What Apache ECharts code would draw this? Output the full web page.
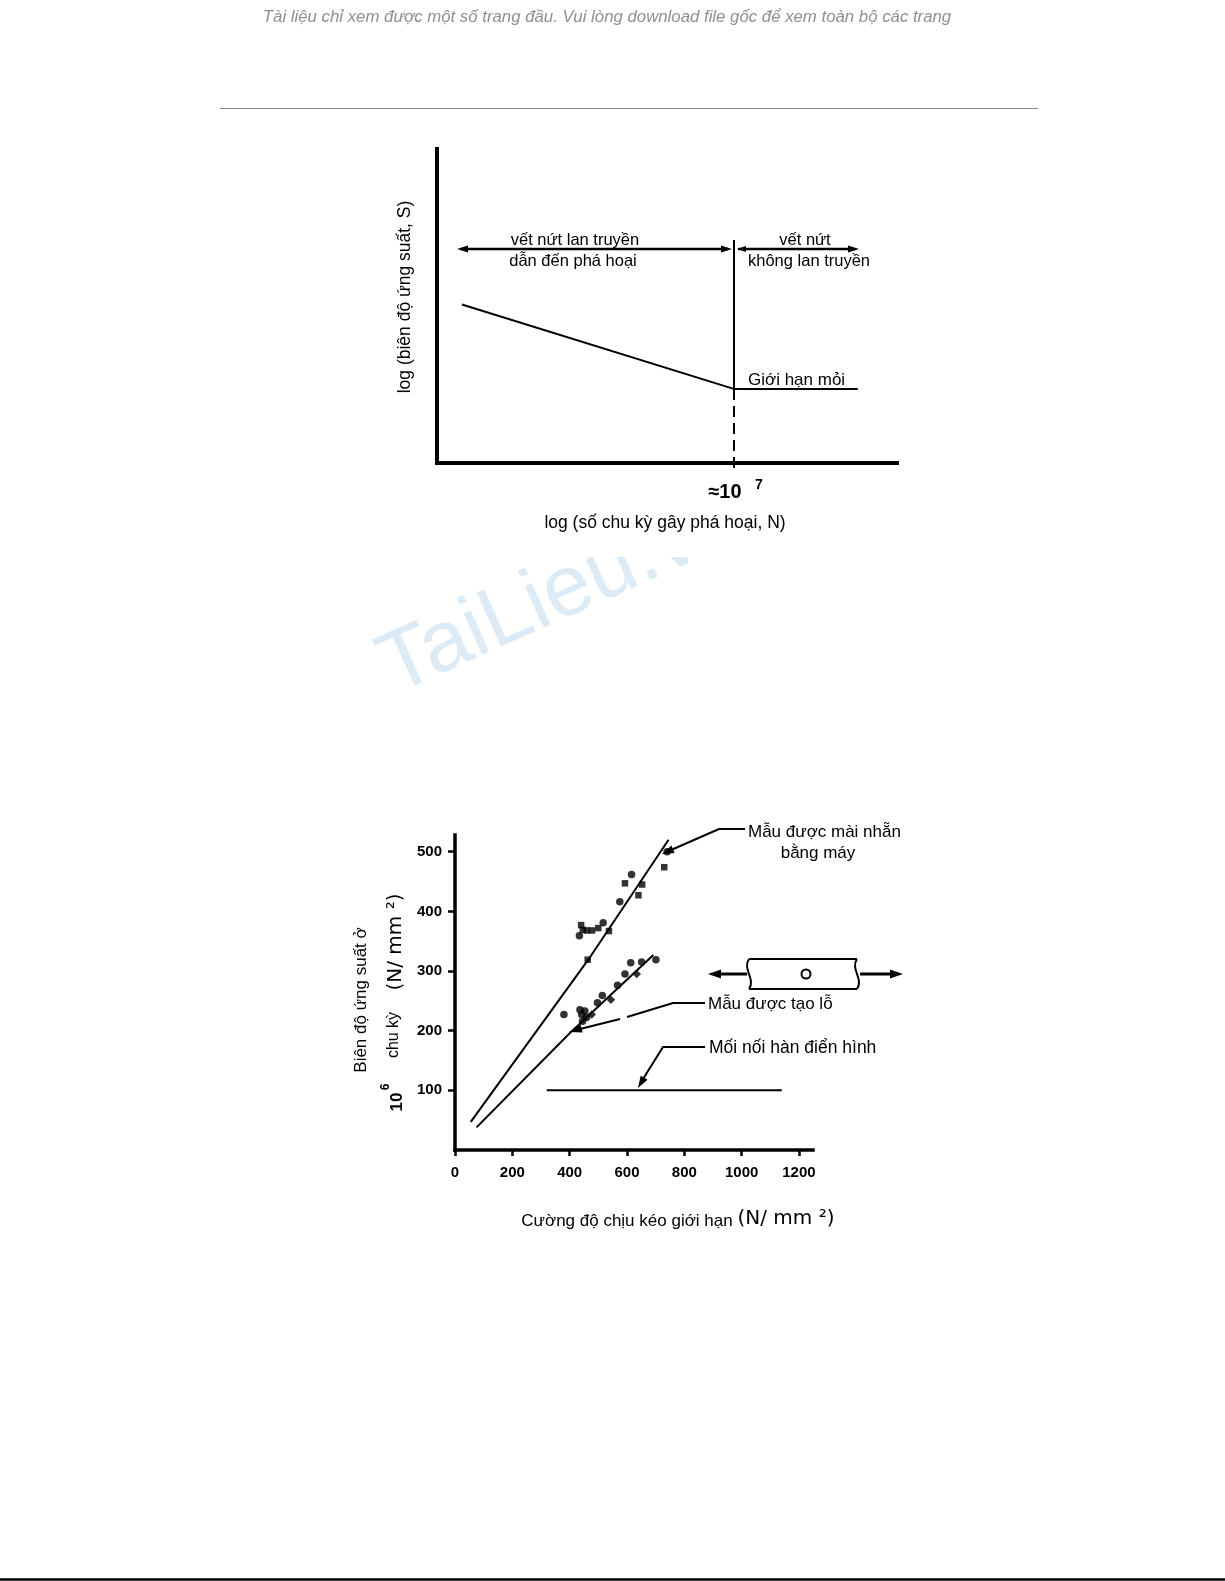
<!DOCTYPE html>
<html><head><meta charset="utf-8">
<script src="https://cdn.jsdelivr.net/npm/echarts@6/dist/echarts.min.js"></script>
<style>html,body{margin:0;padding:0;background:#fff}#c{width:1225px;height:1581px}</style>
</head><body><div id="c"></div>
<script>
// ---------- DATA ----------
// Top chart: schematic S-N curve (log N, log S in arbitrary units)
const snCurve = [[2.42, 5.05], [7, 2.36], [9.09, 2.36]];
// Bottom chart
const xTicks = [0, 200, 400, 600, 800, 1000, 1200];
const yTicks = [100, 200, 300, 400, 500];
const polishedLine = [[55, 47], [465, 319], [745, 520]];
const drilledLine = [[75, 38], [401, 196], [692, 327]];
const weldLine = [[320, 100], [1140, 100]];
const polishedSquares = [[440, 377], [446, 369], [460, 368], [478, 368], [500, 372], [537, 367], [593, 447], [653, 445], [640, 427], [730, 474], [463, 319]];
const polishedCircles = [[434, 359], [517, 381], [575, 416], [616, 462], [740, 500]];
const drilledCircles = [[380, 227], [436, 235], [453, 233], [442, 227], [459, 222], [445, 216], [497, 247], [514, 259], [567, 276], [593, 295], [613, 314], [651, 315], [701, 319]];
const drilledDiamonds = [[477, 227], [544, 252], [634, 295]];

// ---------- HELPERS ----------
const FF = '"Liberation Sans", Arial, Helvetica, sans-serif';
function T(x, y, text, size, o) {
  o = o || {};
  const al = o.align || 'center', va = o.valign || 'middle';
  return { type: 'text', x: x, y: y, rotation: o.rot || 0, z: o.z || 10, silent: true,
    style: { text: text, fill: o.color || '#000', fontSize: size, fontFamily: o.family || FF,
      fontWeight: o.weight || 'normal', fontStyle: o.fstyle || 'normal',
      align: al, verticalAlign: va, textAlign: al, textVerticalAlign: va } };
}
function L(x1, y1, x2, y2, w, o) {
  o = o || {};
  return { type: 'line', z: 10, silent: true, shape: { x1, y1, x2, y2 },
    style: { stroke: o.color || '#000', lineWidth: w || 2, lineDash: o.dash || null } };
}
function PL(points, w) {
  return { type: 'polyline', z: 10, silent: true, shape: { points }, style: { stroke: '#000', lineWidth: w || 2, fill: null } };
}
function head(x1, y1, x2, y2, len, hw) {
  const dx = x2 - x1, dy = y2 - y1, d = Math.hypot(dx, dy), ux = dx / d, uy = dy / d;
  const bx = x2 - ux * len, by = y2 - uy * len;
  return { type: 'polygon', z: 11, silent: true,
    shape: { points: [[x2, y2], [bx - uy * hw, by + ux * hw], [bx + uy * hw, by - ux * hw]] },
    style: { fill: '#000' } };
}

const chart = echarts.init(document.getElementById('c'), null, { renderer: 'canvas' });

const graphics = [];
// header
graphics.push(T(607, 17, 'Tài liệu chỉ xem được một số trang đầu. Vui lòng download file gốc để xem toàn bộ các trang', 16.8, { color: '#8f8f8f', fstyle: 'italic', z: 3 }));
graphics.push({ type: 'line', z: 3, silent: true, shape: { x1: 220, y1: 108.5, x2: 1038, y2: 108.5 }, style: { stroke: '#8a8a8a', lineWidth: 1 } });
// watermark
graphics.push({ type: 'text', x: 402, y: 712, rotation: 0.42, z: 0, silent: true,
  style: { text: 'TaiLieu.vn', fill: 'rgba(150,195,228,0.33)', fontSize: 86, fontFamily: FF,
    align: 'left', verticalAlign: 'bottom', textAlign: 'left', textVerticalAlign: 'bottom' } });
// image boxes (occlude watermark)
graphics.push({ type: 'rect', z: 1, silent: true, shape: { x: 368, y: 133, width: 552, height: 424 }, style: { fill: '#ffffff' } });
graphics.push({ type: 'rect', z: 1, silent: true, shape: { x: 330, y: 787, width: 630, height: 445 }, style: { fill: '#ffffff' } });

// ---- top chart annotations ----
graphics.push(L(734, 240, 734, 389, 2));
graphics.push(L(734, 389, 734, 474, 2, { dash: [11, 6] }));
graphics.push(L(461, 249, 728, 249, 2.5));
graphics.push(head(470, 249, 457, 249, 11, 3.5));
graphics.push(head(718, 249, 732, 249, 11, 3.5));
graphics.push(L(738, 249, 855, 249, 2.5));
graphics.push(head(748, 249, 737, 249, 9, 3));
graphics.push(head(845, 249, 859, 249, 11, 3.5));
graphics.push(T(575, 240, 'vết nứt lan truyền', 16.5));
graphics.push(T(573, 261, 'dẫn đến phá hoại', 16.5));
graphics.push(T(805, 240, 'vết nứt', 16.5));
graphics.push(T(809, 261, 'không lan truyền', 16.5));
graphics.push(T(748, 380, 'Giới hạn mỏi', 17, { align: 'left' }));
graphics.push(T(725, 492, '≈10', 20, { weight: 'bold' }));
graphics.push(T(759, 485, '7', 14, { weight: 'bold' }));
graphics.push(T(405, 297, 'log (biên độ ứng suất, S)', 17.5, { rot: Math.PI / 2 }));
graphics.push(T(665, 523, 'log (số chu kỳ gây phá hoại, N)', 17.5));

// ---- bottom chart annotations ----
graphics.push(PL([[745, 829], [719, 829], [671, 850]], 2));
graphics.push(head(683, 845, 662, 854, 12, 4));
graphics.push(T(748, 832, 'Mẫu được mài nhẵn', 17, { align: 'left' }));
graphics.push(T(818, 853, 'bằng máy', 17));
graphics.push(PL([[705, 1003], [673, 1003], [627, 1017]], 2));
graphics.push(PL([[620, 1019], [580, 1029]], 2));
graphics.push(head(588, 1027, 569, 1032, 13, 4));
graphics.push(T(708, 1004, 'Mẫu được tạo lỗ', 17, { align: 'left' }));
graphics.push(PL([[705, 1047], [663, 1047], [643, 1079]], 2));
graphics.push(head(648, 1071, 638, 1088, 12, 4));
graphics.push(T(709, 1048, 'Mối nối hàn điển hình', 17.5, { align: 'left' }));
// specimen sketch
graphics.push(L(749, 959, 857, 959, 2));
graphics.push(L(749, 989, 857, 989, 2));
graphics.push({ type: 'bezierCurve', z: 10, silent: true, shape: { x1: 749, y1: 959, x2: 749, y2: 989, cpx1: 742, cpy1: 969, cpx2: 756, cpy2: 979 }, style: { stroke: '#000', lineWidth: 2, fill: null } });
graphics.push({ type: 'bezierCurve', z: 10, silent: true, shape: { x1: 857, y1: 959, x2: 857, y2: 989, cpx1: 850, cpy1: 969, cpx2: 864, cpy2: 979 }, style: { stroke: '#000', lineWidth: 2, fill: null } });
graphics.push({ type: 'circle', z: 10, silent: true, shape: { cx: 806, cy: 974, r: 4.5 }, style: { stroke: '#000', lineWidth: 2, fill: '#fff' } });
graphics.push(L(747, 974, 716, 974, 3));
graphics.push(head(722, 974, 708, 974, 13, 4.5));
graphics.push(L(860, 974, 893, 974, 3));
graphics.push(head(888, 974, 903, 974, 13, 4.5));
// axis titles bottom
graphics.push(T(361, 1000, 'Biên độ ứng suất ở', 17, { rot: Math.PI / 2 }));
graphics.push(T(394, 1035, 'chu kỳ', 16, { rot: Math.PI / 2 }));
graphics.push(T(396, 942, '(N/ mm ²)', 20, { rot: Math.PI / 2, family: '"DejaVu Sans", sans-serif' }));
graphics.push(T(397, 1102, '10', 17, { rot: Math.PI / 2, weight: 'bold' }));
graphics.push(T(386, 1087, '6', 12, { rot: Math.PI / 2, weight: 'bold' }));
graphics.push(T(627, 1221, 'Cường độ chịu kéo giới hạn', 17));
graphics.push(T(786, 1219, '(N/ mm ²)', 20, { family: '"DejaVu Sans", sans-serif' }));
// page bottom rule
graphics.push({ type: 'line', z: 3, silent: true, shape: { x1: 0, y1: 1579.5, x2: 1225, y2: 1579.5 }, style: { stroke: '#000', lineWidth: 2.5 } });

const axisBlack = { show: true, lineStyle: { color: '#000', width: 4, cap: 'square' } };
const labelStyle = { fontFamily: FF, fontWeight: 'bold', fontSize: 15, color: '#000', formatter: function (v) { return String(v); } };

const option = {
  animation: false,
  backgroundColor: '#ffffff',
  grid: [
    { left: 437, top: 149, width: 460, height: 314, z: 5 },
    { left: 455, top: 835, width: 358, height: 315, z: 5 }
  ],
  xAxis: [
    { type: 'value', gridIndex: 0, min: 2, max: 9.75, z: 5, axisLine: axisBlack,
      axisTick: { show: false }, axisLabel: { show: false }, splitLine: { show: false } },
    { type: 'value', gridIndex: 1, min: 0, max: 1249, interval: 200, z: 5,
      axisLine: { show: true, lineStyle: { color: '#000', width: 3.5, cap: 'square' } },
      axisTick: { show: true, length: 6, lineStyle: { color: '#000', width: 2.5 }, customValues: xTicks },
      axisLabel: Object.assign({ margin: 15, customValues: xTicks }, labelStyle),
      splitLine: { show: false } }
  ],
  yAxis: [
    { type: 'value', gridIndex: 0, min: 0, max: 10, z: 5, axisLine: axisBlack,
      axisTick: { show: false }, axisLabel: { show: false }, splitLine: { show: false } },
    { type: 'value', gridIndex: 1, min: 0, max: 528, interval: 100, z: 5,
      axisLine: { show: true, lineStyle: { color: '#000', width: 3.5, cap: 'square' } },
      axisTick: { show: true, length: 7, lineStyle: { color: '#000', width: 2.5 }, customValues: yTicks },
      axisLabel: Object.assign({ margin: 13, customValues: yTicks }, labelStyle),
      splitLine: { show: false } }
  ],
  series: [
    { type: 'line', name: 'S-N', xAxisIndex: 0, yAxisIndex: 0, data: snCurve, symbol: 'none', z: 5,
      lineStyle: { color: '#000', width: 2 }, silent: true },
    { type: 'line', name: 'Mẫu được mài nhẵn', xAxisIndex: 1, yAxisIndex: 1, data: polishedLine, symbol: 'none', z: 5,
      lineStyle: { color: '#000', width: 2 }, silent: true },
    { type: 'line', name: 'Mẫu được tạo lỗ', xAxisIndex: 1, yAxisIndex: 1, data: drilledLine, symbol: 'none', z: 5,
      lineStyle: { color: '#000', width: 2 }, silent: true },
    { type: 'line', name: 'Mối nối hàn điển hình', xAxisIndex: 1, yAxisIndex: 1, data: weldLine, symbol: 'none', z: 5,
      lineStyle: { color: '#000', width: 2 }, silent: true },
    { type: 'scatter', xAxisIndex: 1, yAxisIndex: 1, data: polishedSquares, symbol: 'rect', symbolSize: 6.5, z: 6,
      itemStyle: { color: '#000' }, silent: true },
    { type: 'scatter', xAxisIndex: 1, yAxisIndex: 1, data: polishedCircles, symbol: 'circle', symbolSize: 7.5, z: 6,
      itemStyle: { color: '#000' }, silent: true },
    { type: 'scatter', xAxisIndex: 1, yAxisIndex: 1, data: drilledCircles, symbol: 'circle', symbolSize: 7.5, z: 6,
      itemStyle: { color: '#000' }, silent: true },
    { type: 'scatter', xAxisIndex: 1, yAxisIndex: 1, data: drilledDiamonds, symbol: 'diamond', symbolSize: 8.5, z: 6,
      itemStyle: { color: '#000' }, silent: true }
  ],
  graphic: { elements: graphics }
};
chart.setOption(option);
</script>
</body></html>
